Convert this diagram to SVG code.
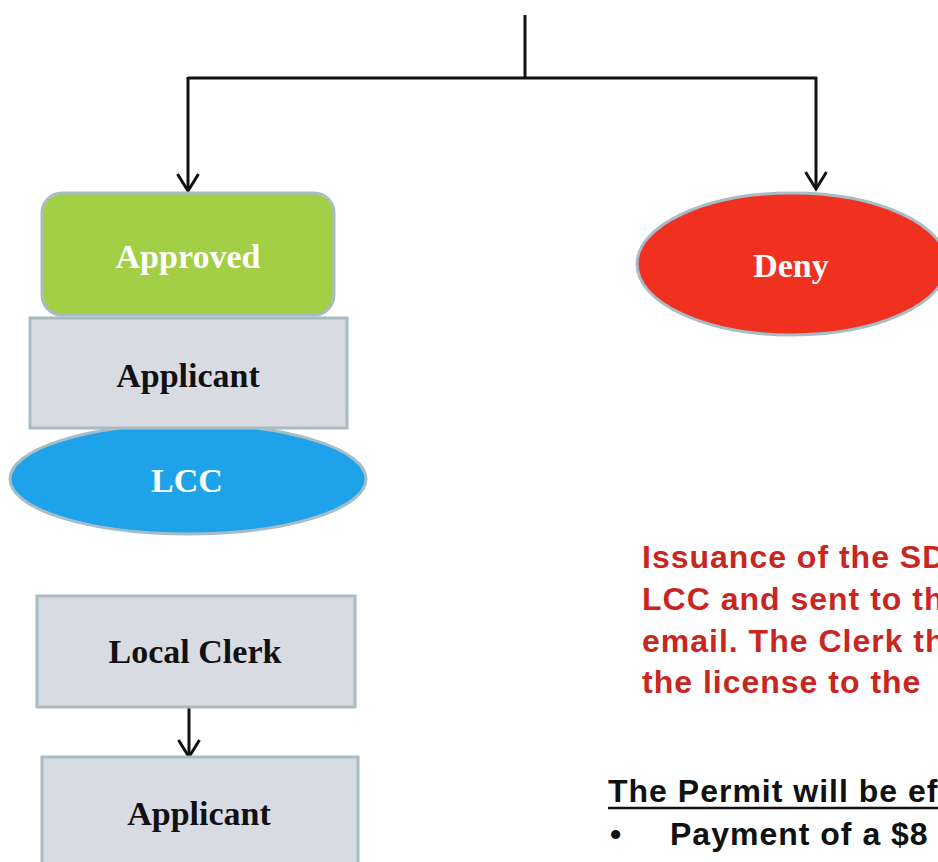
<svg xmlns="http://www.w3.org/2000/svg" width="938" height="862" viewBox="0 0 938 862">
<defs>
<marker id="arr" markerWidth="22" markerHeight="24" refX="19" refY="12" orient="auto" markerUnits="userSpaceOnUse" viewBox="0 0 22 24">
<path d="M2,1.5 L19,12 L2,22.5" fill="none" stroke="#111" stroke-width="3"/>
</marker>
</defs>
<style>
.lbl{font-family:"Liberation Serif","Times New Roman",serif;font-weight:bold;font-size:34px;text-anchor:middle}
.wt{fill:#ffffff}
.bk{fill:#111111}
.gray{fill:#d9dbe3;stroke:#a7bcc1;stroke-width:3}
.conn{fill:none;stroke:#111;stroke-width:3}
.red{font-family:"Liberation Sans",Arial,sans-serif;font-weight:bold;font-size:32px;fill:#c9261f;letter-spacing:1px}
.blk{font-family:"Liberation Sans",Arial,sans-serif;font-weight:bold;font-size:32px;fill:#111;letter-spacing:1px}
</style>
<rect width="938" height="862" fill="#ffffff"/>
<g id="connectors">
<path class="conn" d="M525,15 V78"/>
<path class="conn" d="M188,78 H817"/>
<path class="conn" d="M188,77 V191" marker-end="url(#arr)"/>
<path class="conn" d="M816,77 V189" marker-end="url(#arr)"/>
<path class="conn" d="M189,707 V757" marker-end="url(#arr)"/>
</g>
<g id="node-lcc">
<ellipse cx="188" cy="479" rx="178" ry="55" fill="#1ea2ea" stroke="#a6bcc6" stroke-width="3"/>
<text class="lbl wt" x="187" y="492">LCC</text>
</g>
<g id="node-approved">
<rect x="42" y="193" width="292" height="122" rx="20" fill="#a2cf45" stroke="#a9bcc4" stroke-width="3"/>
<text class="lbl wt" x="188" y="268">Approved</text>
</g>
<g id="node-applicant1">
<rect class="gray" x="30" y="318" width="317" height="110"/>
<text class="lbl bk" x="188" y="387">Applicant</text>
</g>
<g id="node-deny">
<ellipse cx="792" cy="264" rx="155" ry="71" fill="#f0311f" stroke="#a6bcc6" stroke-width="3"/>
<text class="lbl wt" x="791" y="277">Deny</text>
</g>
<g id="node-localclerk">
<rect class="gray" x="37" y="596" width="318" height="111"/>
<text class="lbl bk" x="195" y="663">Local Clerk</text>
</g>
<g id="node-applicant2">
<rect class="gray" x="42" y="757" width="316" height="120"/>
<text class="lbl bk" x="199" y="825">Applicant</text>
</g>
<g id="note">
<text class="red" x="642" y="568">Issuance of the SD</text>
<text class="red" x="642" y="610">LCC and sent to th</text>
<text class="red" x="642" y="652">email. The Clerk th</text>
<text class="red" x="642" y="693">the license to the</text>
<text class="blk" x="608" y="802">The Permit will be ef</text>
<line x1="608" y1="808" x2="938" y2="808" stroke="#111" stroke-width="2.5"/>
<text class="blk" x="610" y="845">•</text>
<text class="blk" x="670" y="845">Payment of a $8</text>
</g>
</svg>
